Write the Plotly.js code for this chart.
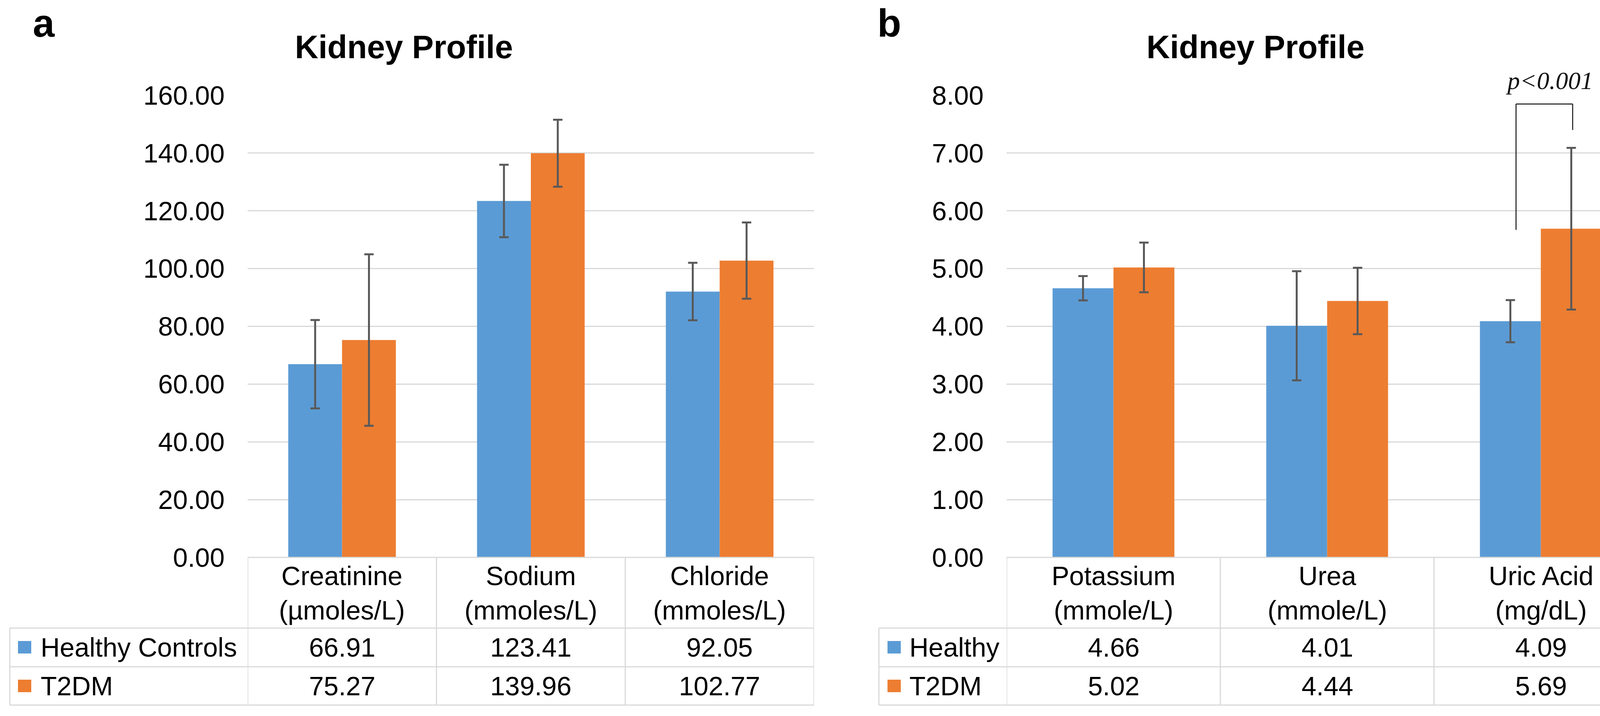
<!DOCTYPE html>
<html>
<head>
<meta charset="utf-8">
<script src="https://cdn.plot.ly/plotly-3.0.1.min.js"></script>
<style>html,body{margin:0;padding:0;background:#fff;}#chart{width:4244px;height:1833px;}</style>
</head>
<body>
<div id="chart"></div>
<script>
// ---- data ----
const seriesNames = ['Healthy Controls', 'T2DM'];
const seriesNamesB = ['Healthy', 'T2DM'];
const categoriesA = ['Creatinine', 'Sodium', 'Chloride'];
const unitsA = ['(µmoles/L)', '(mmoles/L)', '(mmoles/L)'];
const healthyA = [66.91, 123.41, 92.05];
const t2dmA = [75.27, 139.96, 102.77];
const healthyA_sd = [15.3, 12.55, 9.95];
const t2dmA_sd = [29.7, 11.6, 13.2];

const categoriesB = ['Potassium', 'Urea', 'Uric Acid'];
const unitsB = ['(mmole/L)', '(mmole/L)', '(mg/dL)'];
const healthyB = [4.66, 4.01, 4.09];
const t2dmB = [5.02, 4.44, 5.69];
const healthyB_sd = [0.21, 0.945, 0.365];
const t2dmB_sd = [0.43, 0.575, 1.40];

const yTicksA = [0, 20, 40, 60, 80, 100, 120, 140, 160];
const yTicksB = [0, 1, 2, 3, 4, 5, 6, 7, 8];
const pLabel = 'p<0.001';
const bracketY = {left: 5.67, top: 7.85, right: 7.40};

// ---- styling ----
const W = 4244, H = 1833;
const BLUE = '#5B9BD5', ORANGE = '#ED7D31';
const GRID = '#d9d9d9';
const FONT = 'Liberation Sans, Arial, sans-serif';
const px = x => x / W;
const py = y => 1 - y / H;

const plotTop = 244, plotBottom = 1427;
const rowLines = [1608, 1707, 1805];
const rowCenters = [1657, 1756];
const headerCenter = 1518;

const panels = [
  {xa: 'x', ya: 'y', cats: categoriesA, units: unitsA, h: healthyA, t: t2dmA, hs: healthyA_sd, ts: t2dmA_sd,
   names: seriesNames, left: 634, right: 2084, tableLeft: 25, sq: 46, txt: 102, label: 'a', labelX: 82, titleX: 1034},
  {xa: 'x2', ya: 'y2', cats: categoriesB, units: unitsB, h: healthyB, t: t2dmB, hs: healthyB_sd, ts: t2dmB_sd,
   names: seriesNamesB, left: 2577, right: 4218, tableLeft: 2250, sq: 2272, txt: 2326, label: 'b', labelX: 2244, titleX: 3214}
];

const errStyle = {color: '#595959', thickness: 5, width: 12};
const traces = [];
const shapes = [];
const annotations = [];

panels.forEach(p => {
  traces.push({type: 'bar', x: p.cats, y: p.h, name: p.names[0], xaxis: p.xa, yaxis: p.ya,
    marker: {color: BLUE}, error_y: Object.assign({type: 'data', array: p.hs, visible: true}, errStyle), hoverinfo: 'none'});
  traces.push({type: 'bar', x: p.cats, y: p.t, name: p.names[1], xaxis: p.xa, yaxis: p.ya,
    marker: {color: ORANGE}, error_y: Object.assign({type: 'data', array: p.ts, visible: true}, errStyle), hoverinfo: 'none'});

  const line = {color: GRID, width: 3};
  // top line of table (axis line)
  shapes.push({type: 'line', xref: 'paper', yref: 'paper', x0: px(p.left), x1: px(p.right), y0: py(plotBottom), y1: py(plotBottom), line});
  // row lines
  rowLines.forEach(y => shapes.push({type: 'line', xref: 'paper', yref: 'paper', x0: px(p.tableLeft), x1: px(p.right), y0: py(y), y1: py(y), line}));
  // legend column left border
  shapes.push({type: 'line', xref: 'paper', yref: 'paper', x0: px(p.tableLeft), x1: px(p.tableLeft), y0: py(rowLines[0]), y1: py(rowLines[2]), line});
  // column borders
  [-0.5, 0.5, 1.5, 2.5].forEach(xv => shapes.push({type: 'line', xref: p.xa, yref: 'paper', x0: xv, x1: xv, y0: py(plotBottom), y1: py(rowLines[2]), line}));
  // legend squares
  [BLUE, ORANGE].forEach((c, i) => shapes.push({type: 'rect', xref: 'paper', yref: 'paper',
    x0: px(p.sq), x1: px(p.sq + 34), y0: py(rowCenters[i] - 16), y1: py(rowCenters[i] + 16), fillcolor: c, line: {width: 0}}));

  // header labels
  p.cats.forEach((c, i) => annotations.push({xref: p.xa, yref: 'paper', x: c, y: py(headerCenter), xanchor: 'center', yanchor: 'middle',
    text: c + '<br>' + p.units[i], showarrow: false, font: {family: FONT, size: 68, color: '#000'}}));
  // values
  [p.h, p.t].forEach((arr, r) => arr.forEach((v, i) => annotations.push({xref: p.xa, yref: 'paper', x: p.cats[i], y: py(rowCenters[r]),
    xanchor: 'center', yanchor: 'middle', text: v.toFixed(2), showarrow: false, font: {family: FONT, size: 68, color: '#000'}})));
  // legend names
  p.names.forEach((n, r) => annotations.push({xref: 'paper', yref: 'paper', x: px(p.txt), y: py(rowCenters[r]), xanchor: 'left', yanchor: 'middle',
    text: n, showarrow: false, font: {family: FONT, size: 68, color: '#000'}}));
  // panel letter and title
  annotations.push({xref: 'paper', yref: 'paper', x: px(p.labelX), y: py(59), xanchor: 'left', yanchor: 'middle',
    text: '<b>' + p.label + '</b>', showarrow: false, font: {family: FONT, size: 100, color: '#000'}});
  annotations.push({xref: 'paper', yref: 'paper', x: px(p.titleX), y: py(121), xanchor: 'center', yanchor: 'middle',
    text: '<b>Kidney Profile</b>', showarrow: false, font: {family: FONT, size: 83, color: '#000'}});
});

// significance bracket on Uric Acid (panel b)
const bx0 = 2 - 0.116, bx1 = 2 + 0.149;
const bline = {color: '#111', width: 2.5};
shapes.push({type: 'line', xref: 'x2', yref: 'y2', x0: bx0, x1: bx0, y0: bracketY.left, y1: bracketY.top, line: bline});
shapes.push({type: 'line', xref: 'x2', yref: 'y2', x0: bx0, x1: bx1, y0: bracketY.top, y1: bracketY.top, line: bline});
shapes.push({type: 'line', xref: 'x2', yref: 'y2', x0: bx1, x1: bx1, y0: bracketY.top, y1: bracketY.right, line: bline});
annotations.push({xref: 'x2', yref: 'paper', x: 2 + 0.04, y: py(206), xanchor: 'center', yanchor: 'middle', showarrow: false,
  text: '<i>' + pLabel.replace('<', '&lt;') + '</i>', font: {family: 'Liberation Serif, Times New Roman, serif', size: 64, color: '#111'}});

const xCommon = {type: 'category', range: [-0.5, 2.5], showticklabels: false, showgrid: false, zeroline: false, showline: false, ticks: '', fixedrange: true};
const yCommon = {showgrid: true, gridcolor: GRID, gridwidth: 3, zeroline: false, showline: false, ticks: '', tickformat: '.2f',
  tickfont: {family: FONT, size: 68, color: '#000'}, ticklabelstandoff: 58, fixedrange: true};

const layout = {
  width: W, height: H, margin: {l: 0, r: 0, t: 0, b: 0}, paper_bgcolor: '#fff', plot_bgcolor: '#fff',
  showlegend: false, barmode: 'group', bargap: 0.43, bargroupgap: 0,
  xaxis: Object.assign({}, xCommon, {domain: [px(634), px(2084)], anchor: 'y'}),
  yaxis: Object.assign({}, yCommon, {domain: [py(plotBottom), py(plotTop)], range: [0, 160], tickvals: yTicksA, anchor: 'x'}),
  xaxis2: Object.assign({}, xCommon, {domain: [px(2577), px(4218)], anchor: 'y2'}),
  yaxis2: Object.assign({}, yCommon, {domain: [py(plotBottom), py(plotTop)], range: [0, 8], tickvals: yTicksB, anchor: 'x2'}),
  shapes, annotations
};

Plotly.newPlot('chart', traces, layout, {staticPlot: true, displayModeBar: false});
</script>
</body>
</html>
